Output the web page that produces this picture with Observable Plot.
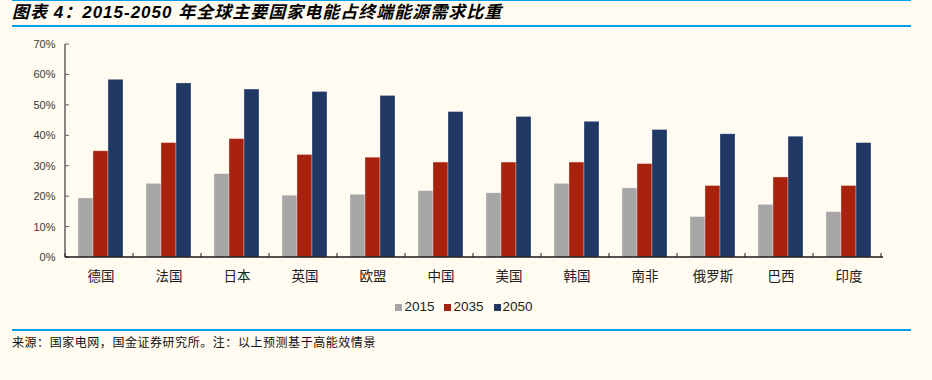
<!DOCTYPE html>
<html><head><meta charset="utf-8">
<script src="https://cdn.jsdelivr.net/npm/d3@7"></script>
<script src="https://cdn.jsdelivr.net/npm/@observablehq/plot@0.6"></script>
<style>
html,body{margin:0;padding:0;background:#FFFBF0;}
body{width:932px;height:380px;position:relative;overflow:hidden;font-family:"Noto Sans CJK SC",sans-serif;}
.bl{position:absolute;left:12px;width:899px;background:#00A0E9;}
#title{position:absolute;left:12px;top:2px;font-size:17px;line-height:21px;font-weight:bold;font-style:italic;color:#000;font-family:"Liberation Sans Narrow","Liberation Sans","Noto Sans CJK SC",sans-serif;white-space:nowrap;letter-spacing:1px;}
#chart{position:absolute;left:0;top:30px;}
#legend{position:absolute;left:0;top:299px;width:928px;display:flex;justify-content:center;font-family:"Liberation Sans Narrow","Liberation Sans",Arial,sans-serif;font-size:13.5px;color:#222;line-height:16px;}
#legend .it{display:flex;align-items:center;margin:0 5px;}
#legend .sw{width:7px;height:7px;margin-right:2px;}
#source{position:absolute;left:12px;top:334px;font-size:12px;line-height:16px;color:#111;font-family:"Noto Sans CJK SC",serif;letter-spacing:0.55px;white-space:nowrap;}
</style></head><body>
<div class="bl" style="top:0;height:1px"></div>
<div id="title">图表 4：2015-2050 年全球主要国家电能占终端能源需求比重</div>
<div class="bl" style="top:25px;height:2px"></div>
<div id="chart"></div>
<div id="legend"></div>
<div class="bl" style="top:329px;height:2px"></div>
<div id="source">来源：国家电网，国金证券研究所。注：以上预测基于高能效情景</div>
<script>
const categories = ["德国","法国","日本","英国","欧盟","中国","美国","韩国","南非","俄罗斯","巴西","印度"];
const years = ["2015","2035","2050"];
const v2015 = [19.4,24.2,27.4,20.3,20.6,21.8,21.1,24.2,22.7,13.3,17.3,14.9];
const v2035 = [34.9,37.6,38.9,33.7,32.8,31.2,31.2,31.2,30.7,23.5,26.3,23.5];
const v2050 = [58.4,57.2,55.2,54.4,53.1,47.8,46.2,44.6,41.9,40.5,39.7,37.6];
const yTicks = [0,10,20,30,40,50,60,70];
const colors = ["#A6A6A6","#A8220E","#203864"];

const series = [v2015, v2035, v2050];
const data = categories.flatMap((c, i) => years.map((yr, j) => ({category: c, year: yr, value: series[j][i]})));

const plot = Plot.plot({
  width: 932,
  height: 265,
  marginLeft: 65,
  marginRight: 49,
  marginTop: 14,
  marginBottom: 38,
  style: {background: "transparent", fontSize: "11px", fontFamily: "'Liberation Sans', Arial, sans-serif", color: "#333", overflow: "visible"},
  fx: {domain: categories, paddingInner: 0.344, paddingOuter: 0.172, label: null, tickSize: 0, tickPadding: 14},
  x: {domain: years, padding: 0, axis: null},
  y: {domain: [0, 70], ticks: yTicks, tickFormat: d => d + "%", tickSize: 0, tickPadding: 10, label: null, grid: false},
  color: {domain: years, range: colors},
  marks: [
    Plot.barY(data, {fx: "category", x: "year", y: "value", fill: "year", stroke: "#ffffff", strokeOpacity: 0.45, strokeWidth: 0.7})
  ]
});
document.getElementById("chart").appendChild(plot);

const svg = d3.select(plot.tagName.toLowerCase() === "svg" ? plot : plot.querySelector("svg"));
svg.selectAll('g[aria-label="fx-axis tick label"] text, g[aria-label="fx-axis"] text')
  .style("font-family", "'Noto Sans CJK SC', sans-serif").style("font-size", "13.5px").attr("fill", "#222");

const ys = plot.scale("y"), fxs = plot.scale("fx");
const y0 = ys.apply(0), yTop = ys.apply(70);
const xL = fxs.range[0], xR = fxs.range[1];
const n = categories.length;
const step = fxs.step || (xR - xL) / (n - fxs.paddingInner + 2 * fxs.paddingOuter);

// the y axis is drawn at the first facet's edge: shift it back to the plot's left edge
const facetOffset = fxs.apply(categories[0]) - xL;
svg.selectAll('g[aria-label="y-axis tick label"], g[aria-label="y-axis"]').each(function () {
  const sel = d3.select(this);
  const prev = sel.attr("transform") || "";
  sel.attr("transform", prev + ` translate(${-facetOffset},0)`);
});
svg.selectAll('g[aria-label="y-axis tick label"] text, g[aria-label="y-axis"] text').attr("fill", "#3a3a3a");

const g = svg.append("g");
g.append("line").attr("x1", xL).attr("x2", xL).attr("y1", yTop).attr("y2", y0).attr("stroke", "#606060").attr("stroke-width", 1.5);
yTicks.forEach(t => g.append("line").attr("x1", xL).attr("x2", xL + 4).attr("y1", ys.apply(t)).attr("y2", ys.apply(t)).attr("stroke", "#606060"));
g.append("line").attr("x1", xL).attr("x2", xR).attr("y1", y0).attr("y2", y0).attr("stroke", "#1a1a1a").attr("stroke-width", 1.3);
for (let k = 0; k <= n; k++) {
  const xb = xL + step * fxs.paddingOuter - step * fxs.paddingInner / 2 + k * step;
  g.append("line").attr("x1", xb).attr("x2", xb).attr("y1", y0).attr("y2", y0 - 4).attr("stroke", "#1a1a1a");
}

const leg = document.getElementById("legend");
years.forEach((yr, j) => {
  const it = document.createElement("div"); it.className = "it";
  const sw = document.createElement("div"); sw.className = "sw"; sw.style.background = colors[j];
  const lb = document.createElement("span"); lb.textContent = yr;
  it.appendChild(sw); it.appendChild(lb); leg.appendChild(it);
});
</script>
</body></html>
